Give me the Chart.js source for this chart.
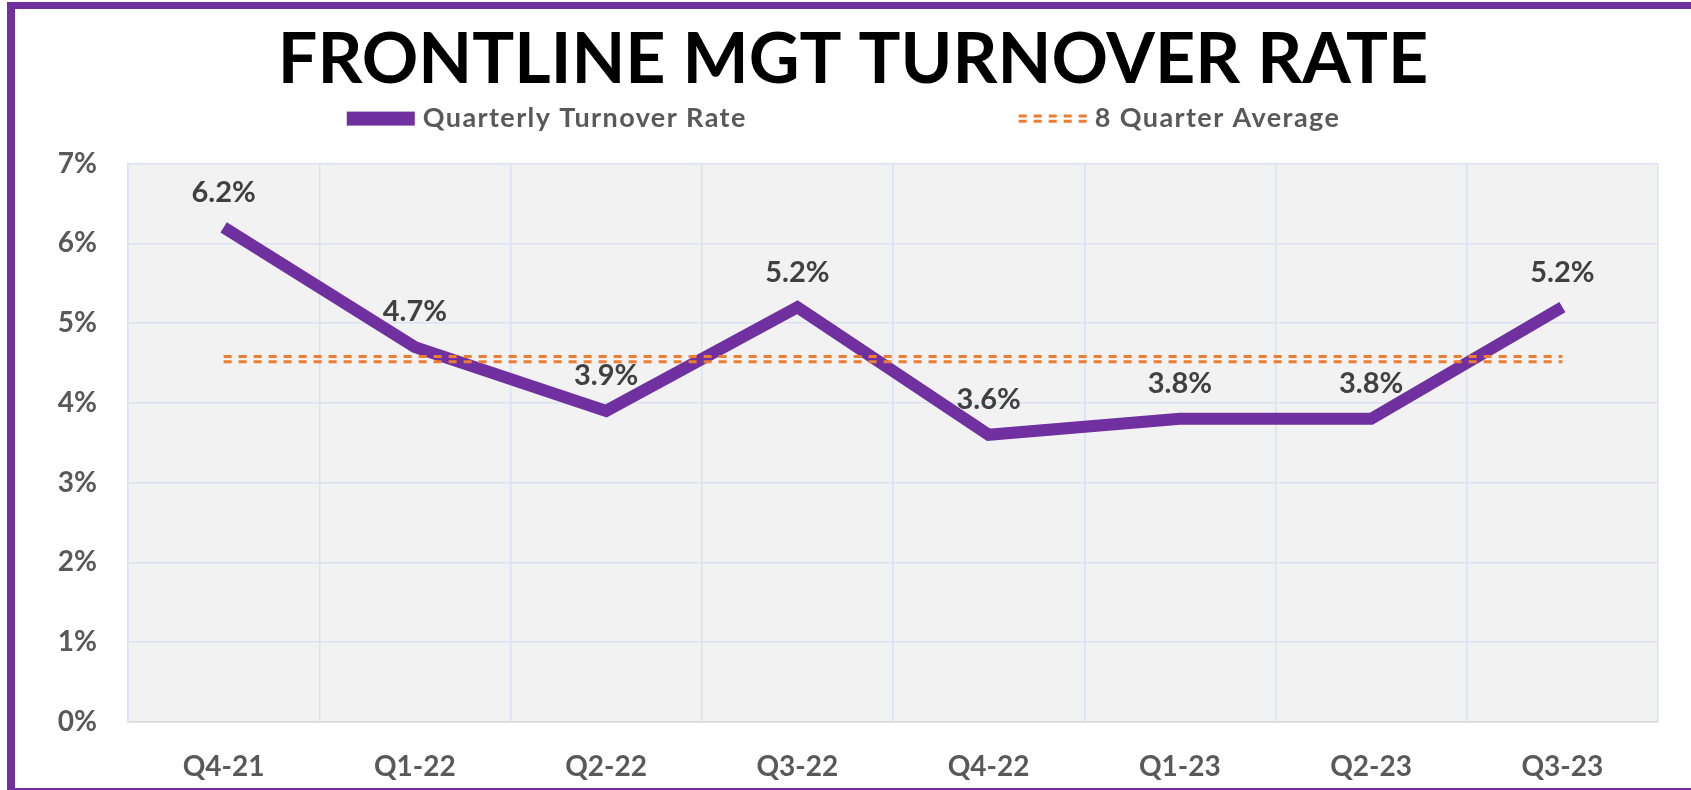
<!DOCTYPE html>
<html>
<head>
<meta charset="utf-8">
<script src="https://cdn.jsdelivr.net/npm/chart.js@4"></script>
<style>
  html, body { margin: 0; padding: 0; background: #fff; overflow: hidden; }
  #wrap { position: absolute; left: 0; top: 0; width: 1691px; height: 790px; }
  #frame { position: absolute; left: 7px; top: 2px; width: 1700px; height: 792px; box-sizing: border-box;
           border-style: solid; border-color: #7030A0; border-width: 7px 0 6px 8px; pointer-events: none; }
</style>
</head>
<body>
<div id="wrap"><canvas id="c"></canvas></div>
<div id="frame"></div>
<script>
const categories = ['Q4-21', 'Q1-22', 'Q2-22', 'Q3-22', 'Q4-22', 'Q1-23', 'Q2-23', 'Q3-23'];
const turnoverRate = [6.2, 4.7, 3.9, 5.2, 3.6, 3.8, 3.8, 5.2];
const eightQuarterAverage = [4.55, 4.55, 4.55, 4.55, 4.55, 4.55, 4.55, 4.55];
const yTicks = [0, 1, 2, 3, 4, 5, 6, 7];
const titleText = 'FRONTLINE MGT TURNOVER RATE';
const seriesNames = ['Quarterly Turnover Rate', '8 Quarter Average'];

const PURPLE = '#7030A0';
const ORANGE = '#ED7D31';
const FONT = 'Lato';
const TITLE_SPACING = '0px';
const TITLE_SHIFT = 16.5;
const DOUBLE_GAP = 2.6;

const plotBg = {
  id: 'plotBg',
  beforeDraw(chart) {
    const { ctx, chartArea: a } = chart;
    ctx.save();
    ctx.fillStyle = '#F2F2F2';
    ctx.fillRect(a.left, a.top, a.right - a.left, a.bottom - a.top);
    ctx.restore();
    const tb = chart.titleBlock;
    if (tb && !tb._patched) {
      const orig = tb.draw.bind(tb);
      tb.draw = function () {
        const c = this.ctx;
        c.save();
        c.letterSpacing = TITLE_SPACING;
        c.translate(TITLE_SHIFT, 0);
        orig();
        c.restore();
      };
      tb._patched = true;
    }
  }
};

const doubleLine = {
  id: 'doubleLine',
  beforeDatasetDraw(chart, args) {
    if (args.index !== 1) return;
    chart.ctx.save();
    chart.ctx.translate(0, -DOUBLE_GAP);
  },
  afterDatasetDraw(chart, args) {
    if (args.index !== 1) return;
    const ctx = chart.ctx;
    ctx.restore();
    ctx.save();
    ctx.translate(0, DOUBLE_GAP);
    args.meta.controller.draw();
    ctx.restore();
  }
};

const dataLabels = {
  id: 'dataLabels',
  afterDatasetsDraw(chart) {
    const ctx = chart.ctx;
    const meta = chart.getDatasetMeta(0);
    ctx.save();
    ctx.font = `bold 29px ${FONT}`;
    ctx.fillStyle = '#404040';
    ctx.textAlign = 'center';
    ctx.textBaseline = 'middle';
    meta.data.forEach((pt, i) => {
      ctx.fillText(turnoverRate[i].toFixed(1) + '%', pt.x, pt.y - 35);
    });
    ctx.restore();
  }
};

const customLegend = {
  id: 'customLegend',
  afterDraw(chart) {
    const ctx = chart.ctx;
    const a = chart.chartArea;
    const y = a.top - 45;
    const boxW = 68;
    const gap = 8;
    const spacing = 272;
    ctx.save();
    ctx.font = `bold 27px ${FONT}`;
    ctx.letterSpacing = '1.4px';
    const w0 = ctx.measureText(seriesNames[0]).width;
    const w1 = ctx.measureText(seriesNames[1]).width;
    const total = boxW + gap + w0 + spacing + boxW + gap + w1;
    const cx = chart.width / 2 - 2;
    let x = cx - total / 2;
    // item 1: solid purple box
    ctx.fillStyle = PURPLE;
    ctx.fillRect(x, y - 7, boxW, 14);
    ctx.fillStyle = '#595959';
    ctx.textBaseline = 'middle';
    ctx.textAlign = 'left';
    ctx.fillText(seriesNames[0], x + boxW + gap, y);
    x += boxW + gap + w0 + spacing;
    // item 2: double dashed orange
    ctx.strokeStyle = ORANGE;
    ctx.lineWidth = 3;
    ctx.setLineDash([8, 7]);
    [-DOUBLE_GAP, DOUBLE_GAP].forEach(d => {
      ctx.beginPath();
      ctx.moveTo(x, y + d);
      ctx.lineTo(x + boxW, y + d);
      ctx.stroke();
    });
    ctx.setLineDash([]);
    ctx.fillStyle = '#595959';
    ctx.fillText(seriesNames[1], x + boxW + gap, y);
    ctx.restore();
  }
};

new Chart(document.getElementById('c'), {
  type: 'line',
  data: {
    labels: categories,
    datasets: [
      {
        label: seriesNames[0],
        data: turnoverRate,
        borderColor: PURPLE,
        backgroundColor: PURPLE,
        borderWidth: 12,
        borderJoinStyle: 'miter',
        borderCapStyle: 'butt',
        pointRadius: 0,
        tension: 0,
        order: 2
      },
      {
        label: seriesNames[1],
        data: eightQuarterAverage,
        borderColor: ORANGE,
        backgroundColor: ORANGE,
        borderWidth: 3,
        borderDash: [8, 7],
        pointRadius: 0,
        tension: 0,
        order: 1
      }
    ]
  },
  options: {
    responsive: true,
    maintainAspectRatio: false,
    animation: false,
    events: [],
    layout: { padding: { left: 15, right: 33, top: 0, bottom: 6 } },
    plugins: {
      legend: { display: false },
      tooltip: { enabled: false },
      title: {
        display: true,
        text: titleText,
        color: '#000000',
        font: { family: FONT, size: 70, weight: 'bold' },
        padding: { top: 18, bottom: 61.6 }
      }
    },
    scales: {
      x: {
        offset: true,
        afterFit(scale) { scale.height = 62; },
        grid: { offset: true, color: '#D9E1F2', lineWidth: 1.5, drawTicks: false },
        border: { color: '#D9D9D9', width: 1.5 },
        ticks: {
          color: '#595959',
          padding: 28,
          maxRotation: 0,
          font: { family: FONT, size: 28, weight: 'bold' }
        }
      },
      y: {
        min: 0,
        max: 7,
        afterFit(scale) { scale.width = 113; },
        afterBuildTicks(scale) { scale.ticks = yTicks.map(v => ({ value: v })); },
        grid: { color: '#D9E1F2', lineWidth: 1.5, drawTicks: false },
        border: { color: '#D9E1F2', width: 1.5 },
        ticks: {
          color: '#595959',
          padding: 31,
          font: { family: FONT, size: 28, weight: 'bold' },
          callback: v => v + '%'
        }
      }
    }
  },
  plugins: [plotBg, doubleLine, dataLabels, customLegend]
});
</script>
</body>
</html>
